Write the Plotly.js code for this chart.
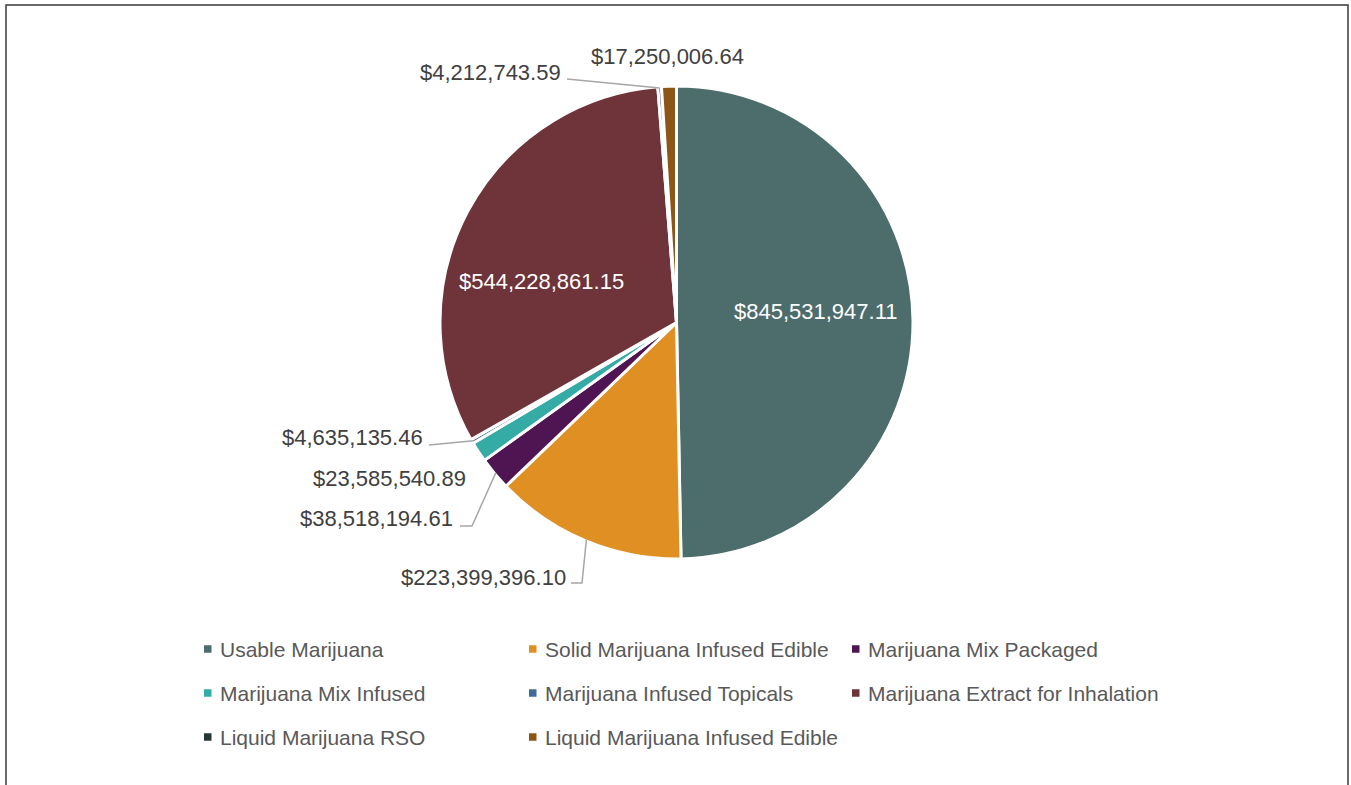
<!DOCTYPE html>
<html>
<head>
<meta charset="utf-8">
<script src="https://cdn.plot.ly/plotly-3.0.1.min.js"></script>
<style>
html,body{margin:0;padding:0;background:#fff;}
#chart{width:1351px;height:785px;}
</style>
</head>
<body>
<div id="chart"></div>
<script>
// ---- data ----
const categories = [
  "Usable Marijuana",
  "Solid Marijuana Infused Edible",
  "Marijuana Mix Packaged",
  "Marijuana Mix Infused",
  "Marijuana Infused Topicals",
  "Marijuana Extract for Inhalation",
  "Liquid Marijuana RSO",
  "Liquid Marijuana Infused Edible"
];
const values = [
  845531947.11,
  223399396.10,
  38518194.61,
  23585540.89,
  4635135.46,
  544228861.15,
  4212743.59,
  17250006.64
];
const colors = [
  "#4d6d6d", "#e08f22", "#4f1552", "#34aba5",
  "#3e6c9b", "#6f333a", "#243838", "#8b5616"
];

// ---- layout config (pixels) ----
const W = 1351, H = 785;
const cx = 676.5, cy = 322.5, R = 235, gap = 3;
// label text placement: [x, y, xanchor, inside]
const labelPlace = [
  [816, 311, "center", true],
  [568, 577, "right", false],
  [455, 518, "right", false],
  [468, 478, "right", false],
  [425, 437, "right", false],
  [541, 282, "center", true],
  [563, 73, "right", false],
  [667, 57, "center", false]
];
// leader line start points (pixels) before reaching slice edge
const leaders = [
  null,
  [[571, 583], [582, 583]],
  [[460, 526], [472, 526]],
  null,
  [[429, 445]],
  null,
  [[567, 79]],
  null
];

function fmt(v) {
  const parts = v.toFixed(2).split(".");
  parts[0] = parts[0].replace(/\B(?=(\d{3})+(?!\d))/g, ",");
  return "$" + parts.join(".");
}
const px = x => x / W;
const py = y => 1 - y / H;

const total = values.reduce((a, b) => a + b, 0);
let cum = 0;
const mids = values.map(v => { const m = (cum + v / 2) / total; cum += v; return m; });

const annotations = [];
const shapes = [];

values.forEach((v, i) => {
  const [lx, ly, anchor, inside] = labelPlace[i];
  annotations.push({
    xref: "paper", yref: "paper", x: px(lx), y: py(ly),
    xanchor: anchor, yanchor: "middle", showarrow: false,
    text: fmt(v),
    font: {family: "Liberation Sans, Arial, sans-serif", size: 22, color: inside ? "#ffffff" : "#404040"}
  });
  if (leaders[i]) {
    const th = 2 * Math.PI * mids[i];
    const tip = [cx + R * Math.sin(th), cy - R * Math.cos(th)];
    const pts = leaders[i].concat([tip]);
    const path = pts.map((p, k) => (k ? "L" : "M") + px(p[0]) + "," + py(p[1])).join(" ");
    shapes.push({type: "path", xref: "paper", yref: "paper", path: path,
      line: {color: "#a6a6a6", width: 1.5}});
  }
});

// custom legend
const legCols = [204, 529, 852], legRows = [649, 693, 737], sq = 7.5, txtOff = 14;
categories.forEach((c, i) => {
  const col = i % 3, row = Math.floor(i / 3);
  const x0 = legCols[col], yc = legRows[row];
  shapes.push({type: "rect", xref: "paper", yref: "paper",
    x0: px(x0), x1: px(x0 + sq), y0: py(yc + sq / 2), y1: py(yc - sq / 2),
    fillcolor: colors[i], line: {width: 0}});
  annotations.push({xref: "paper", yref: "paper", x: px(x0 + txtOff), y: py(yc),
    xanchor: "left", yanchor: "middle", showarrow: false, text: c,
    font: {family: "Liberation Sans, Arial, sans-serif", size: 21, color: "#595959"}});
});

// outer border
shapes.push({type: "rect", xref: "paper", yref: "paper",
  x0: px(6), x1: px(1348), y0: py(800), y1: py(5),
  line: {color: "#3a3a3a", width: 1.5}, fillcolor: "rgba(0,0,0,0)"});

const rr = R + gap / 2;
const trace = {
  type: "pie",
  labels: categories,
  values: values,
  sort: false,
  direction: "clockwise",
  rotation: 0,
  textinfo: "none",
  hoverinfo: "label+value",
  marker: {colors: colors, line: {color: "#ffffff", width: gap}},
  domain: {x: [px(cx - rr), px(cx + rr)], y: [py(cy + rr), py(cy - rr)]},
  showlegend: false
};

Plotly.newPlot("chart", [trace], {
  width: W, height: H,
  margin: {l: 0, r: 0, t: 0, b: 0},
  paper_bgcolor: "#ffffff",
  showlegend: false,
  annotations: annotations,
  shapes: shapes
}, {displayModeBar: false, staticPlot: true});
</script>
</body>
</html>
